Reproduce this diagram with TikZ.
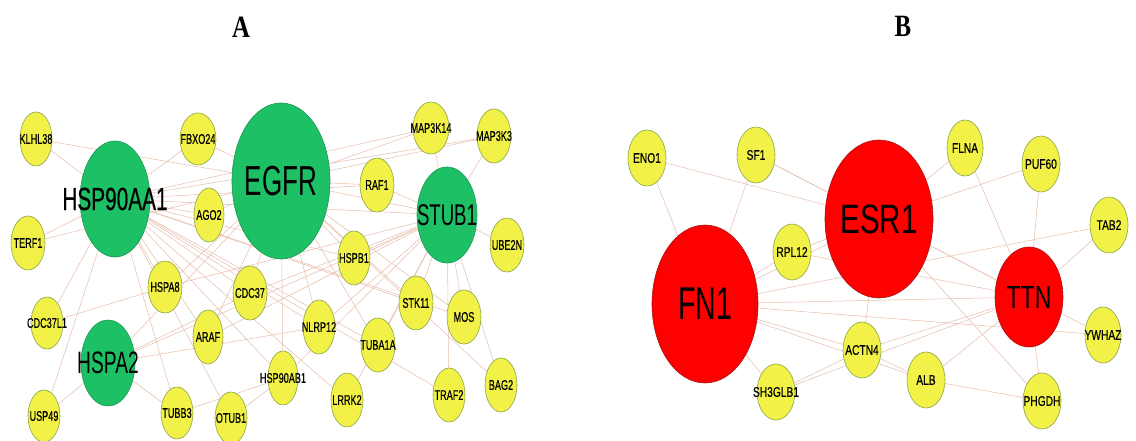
\documentclass[tikz,border=0pt]{standalone}
\usepackage{fontspec}
\usetikzlibrary{shapes.geometric}
\newfontfamily\fA[FakeStretch=0.65,FakeBold=0.4]{Liberation Sans}
\newfontfamily\fB[FakeStretch=0.73,FakeBold=0.4]{Liberation Sans}
\newfontfamily\fBig[FakeStretch=0.62]{Liberation Sans}
\newfontfamily\fBigB[FakeStretch=0.72]{Liberation Sans}
\newfontfamily\fTitle[FakeStretch=0.8]{Liberation Serif}
\definecolor{edgecol}{RGB}{232,188,170}
\definecolor{ynode}{RGB}{241,241,72}
\definecolor{ybord}{RGB}{140,165,70}
\definecolor{gnode}{RGB}{30,192,102}
\definecolor{gbord}{RGB}{20,150,80}
\definecolor{rnode}{RGB}{254,0,0}
\definecolor{rbord}{RGB}{170,20,20}
\pgfdeclarelayer{bg}
\pgfsetlayers{bg,main}
\tikzset{
  edge/.style={draw=edgecol, line width=0.5pt},
  yn/.style={ellipse, draw=ybord, fill=ynode, line width=0.6pt, inner sep=0pt},
  gn/.style={ellipse, draw=gbord, fill=gnode, line width=0.6pt, inner sep=0pt},
  rn/.style={ellipse, draw=rbord, fill=rnode, line width=0.6pt, inner sep=0pt},
  la/.style={font=\fA\fontsize{14}{14}\selectfont, inner sep=0pt},
  lb/.style={font=\fB\fontsize{14}{14}\selectfont, inner sep=0pt},
  title/.style={font=\fTitle\bfseries\fontsize{31}{31}\selectfont, inner sep=0pt},
}
\begin{document}
\begin{tikzpicture}[x=1pt,y=-1pt]
\useasboundingbox (0,0) rectangle (1136,441);
\node[title] (tA) at (241,27) {A};
\node[title] (tB) at (903,26) {B};
% ---------------- Panel A ----------------
\node[yn, minimum width=32pt, minimum height=54pt, label={[la]center:KLHL38}] (klhl38) at (36,139) {};
\node[yn, minimum width=36pt, minimum height=52pt, label={[la]center:FBXO24}] (fbxo24) at (198,139) {};
\node[gn, minimum width=70pt, minimum height=116pt, label={[font=\fA\fontsize{32}{32}\selectfont, inner sep=0pt]center:HSP90AA1}] (hsp90aa1) at (115,199) {};
\node[gn, minimum width=98pt, minimum height=156pt, label={[font=\fBig\fontsize{42}{42}\selectfont, inner sep=0pt]center:EGFR}] (egfr) at (281,181) {};
\node[yn, minimum width=30pt, minimum height=54pt, label={[la]center:AGO2}] (ago2) at (209,215) {};
\node[yn, minimum width=34pt, minimum height=54pt, label={[la]center:TERF1}] (terf1) at (28,243) {};
\node[yn, minimum width=34pt, minimum height=52pt, label={[la]center:HSPA8}] (hspa8) at (165,287) {};
\node[yn, minimum width=34pt, minimum height=54pt, label={[la]center:CDC37}] (cdc37) at (250,293) {};
\node[yn, minimum width=32pt, minimum height=52pt, label={[la]center:CDC37L1}] (cdc37l1) at (47,323) {};
\node[gn, minimum width=54pt, minimum height=86pt, label={[font=\fBig\fontsize{31}{31}\selectfont, inner sep=0pt]center:HSPA2}] (hspa2) at (108,363) {};
\node[yn, minimum width=30pt, minimum height=54pt, label={[la]center:ARAF}] (araf) at (208,337) {};
\node[yn, minimum width=30pt, minimum height=54pt, label={[la]center:HSP90AB1}] (hsp90ab1) at (283,378) {};
\node[yn, minimum width=32pt, minimum height=52pt, label={[la]center:USP49}] (usp49) at (44,416) {};
\node[yn, minimum width=32pt, minimum height=52pt, label={[la]center:TUBB3}] (tubb3) at (177,413) {};
\node[yn, minimum width=32pt, minimum height=52pt, label={[la]center:OTUB1}] (otub1) at (231,418) {};
\node[yn, minimum width=36pt, minimum height=52pt, label={[la]center:MAP3K14}] (map3k14) at (431,128) {};
\node[yn, minimum width=34pt, minimum height=54pt, label={[la]center:MAP3K3}] (map3k3) at (494,136) {};
\node[yn, minimum width=34pt, minimum height=54pt, label={[la]center:RAF1}] (raf1) at (377,185) {};
\node[gn, minimum width=60pt, minimum height=96pt, label={[font=\fBig\fontsize{30}{30}\selectfont, inner sep=0pt]center:STUB1}] (stub1) at (447,215) {};
\node[yn, minimum width=34pt, minimum height=54pt, label={[la]center:UBE2N}] (ube2n) at (507,245) {};
\node[yn, minimum width=32pt, minimum height=54pt, label={[la]center:HSPB1}] (hspb1) at (354,258) {};
\node[yn, minimum width=34pt, minimum height=54pt, label={[la]center:STK11}] (stk11) at (416,303) {};
\node[yn, minimum width=34pt, minimum height=54pt, label={[la]center:MOS}] (mos) at (464,317) {};
\node[yn, minimum width=32pt, minimum height=54pt, label={[la]center:NLRP12}] (nlrp12) at (319,327) {};
\node[yn, minimum width=34pt, minimum height=54pt, label={[la]center:TUBA1A}] (tuba1a) at (378,345) {};
\node[yn, minimum width=32pt, minimum height=54pt, label={[la]center:LRRK2}] (lrrk2) at (347,400) {};
\node[yn, minimum width=32pt, minimum height=54pt, label={[la]center:TRAF2}] (traf2) at (449,395) {};
\node[yn, minimum width=32pt, minimum height=54pt, label={[la]center:BAG2}] (bag2) at (501,385) {};
% ---------------- Panel B ----------------
\node[yn, minimum width=38pt, minimum height=56pt, label={[lb]center:ENO1}] (eno1) at (647,158) {};
\node[yn, minimum width=38pt, minimum height=56pt, label={[lb]center:SF1}] (sf1) at (756,155) {};
\node[rn, minimum width=106pt, minimum height=158pt, label={[font=\fBig\fontsize{46}{46}\selectfont, inner sep=0pt]center:FN1}] (fn1) at (705,304) {};
\node[yn, minimum width=38pt, minimum height=56pt, label={[lb]center:RPL12}] (rpl12) at (792,252) {};
\node[rn, minimum width=108pt, minimum height=158pt, label={[font=\fBigB\fontsize{41}{41}\selectfont, inner sep=0pt]center:ESR1}] (esr1) at (879,219) {};
\node[yn, minimum width=38pt, minimum height=56pt, label={[lb]center:SH3GLB1}] (sh3glb1) at (776,392) {};
\node[yn, minimum width=38pt, minimum height=56pt, label={[lb]center:ACTN4}] (actn4) at (862,350) {};
\node[yn, minimum width=36pt, minimum height=56pt, label={[lb]center:FLNA}] (flna) at (965,148) {};
\node[yn, minimum width=38pt, minimum height=56pt, label={[lb]center:PUF60}] (puf60) at (1041,164) {};
\node[yn, minimum width=38pt, minimum height=56pt, label={[lb]center:TAB2}] (tab2) at (1109,225) {};
\node[rn, minimum width=68pt, minimum height=100pt, label={[font=\fBigB\fontsize{32}{32}\selectfont, inner sep=0pt]center:TTN}] (ttn) at (1029,297) {};
\node[yn, minimum width=36pt, minimum height=56pt, label={[lb]center:YWHAZ}] (ywhaz) at (1103,335) {};
\node[yn, minimum width=38pt, minimum height=56pt, label={[lb]center:ALB}] (alb) at (926,380) {};
\node[yn, minimum width=38pt, minimum height=56pt, label={[lb]center:PHGDH}] (phgdh) at (1042,401) {};
% ---------------- Edges ----------------
\begin{pgfonlayer}{bg}
\fill[white] (0,0) rectangle (1136,441);
\foreach \a/\b in {
 hsp90aa1/klhl38, hsp90aa1/terf1, hsp90aa1/cdc37l1, hsp90aa1/usp49, hsp90aa1/fbxo24,
 hsp90aa1/ago2, hsp90aa1/hspa8, hsp90aa1/tubb3, hsp90aa1/otub1, hsp90aa1/cdc37,
 hsp90aa1/araf, hsp90aa1/hsp90ab1, hsp90aa1/nlrp12, hsp90aa1/stub1, hsp90aa1/raf1,
 hsp90aa1/hspb1, hsp90aa1/stk11, hsp90aa1/tuba1a, hsp90aa1/lrrk2, hsp90aa1/traf2,
 hsp90aa1/map3k14, hsp90aa1/map3k3, hsp90aa1/mos,
 klhl38/egfr, terf1/egfr,
 egfr/fbxo24, egfr/map3k14, egfr/map3k3, egfr/raf1, egfr/stub1, egfr/hspb1, egfr/cdc37,
 egfr/hspa8, egfr/araf, egfr/hsp90ab1, egfr/stk11, egfr/tuba1a, egfr/mos, egfr/nlrp12,
 egfr/ago2, egfr/bag2,
 stub1/map3k14, stub1/map3k3, stub1/ube2n, stub1/raf1, stub1/hspb1, stub1/stk11, stub1/mos,
 stub1/traf2, stub1/bag2, stub1/tuba1a, stub1/nlrp12, stub1/hspa8, stub1/hspa2, stub1/cdc37,
 stub1/araf, stub1/hsp90ab1, stub1/lrrk2,
 hspa2/usp49, hspa2/tubb3, hspa2/cdc37, hspa2/egfr, hspa2/nlrp12,
 cdc37l1/hspa8, tubb3/hsp90ab1, otub1/hsp90ab1,
 eno1/fn1, eno1/esr1, sf1/fn1, sf1/esr1, fn1/rpl12, rpl12/esr1, fn1/esr1, fn1/ttn,
 fn1/ywhaz, fn1/actn4, fn1/alb, fn1/sh3glb1, esr1/flna, esr1/puf60, fn1/tab2, esr1/ttn,
 esr1/actn4, esr1/phgdh, rpl12/ttn, sf1/ttn, flna/ttn, puf60/ttn, tab2/ttn, ttn/ywhaz,
 ttn/phgdh, ttn/actn4, sh3glb1/ttn, ttn/alb, actn4/alb, alb/phgdh, actn4/sh3glb1}
 {\draw[edge] (\a) -- (\b);}
\end{pgfonlayer}
\end{tikzpicture}
\end{document}
